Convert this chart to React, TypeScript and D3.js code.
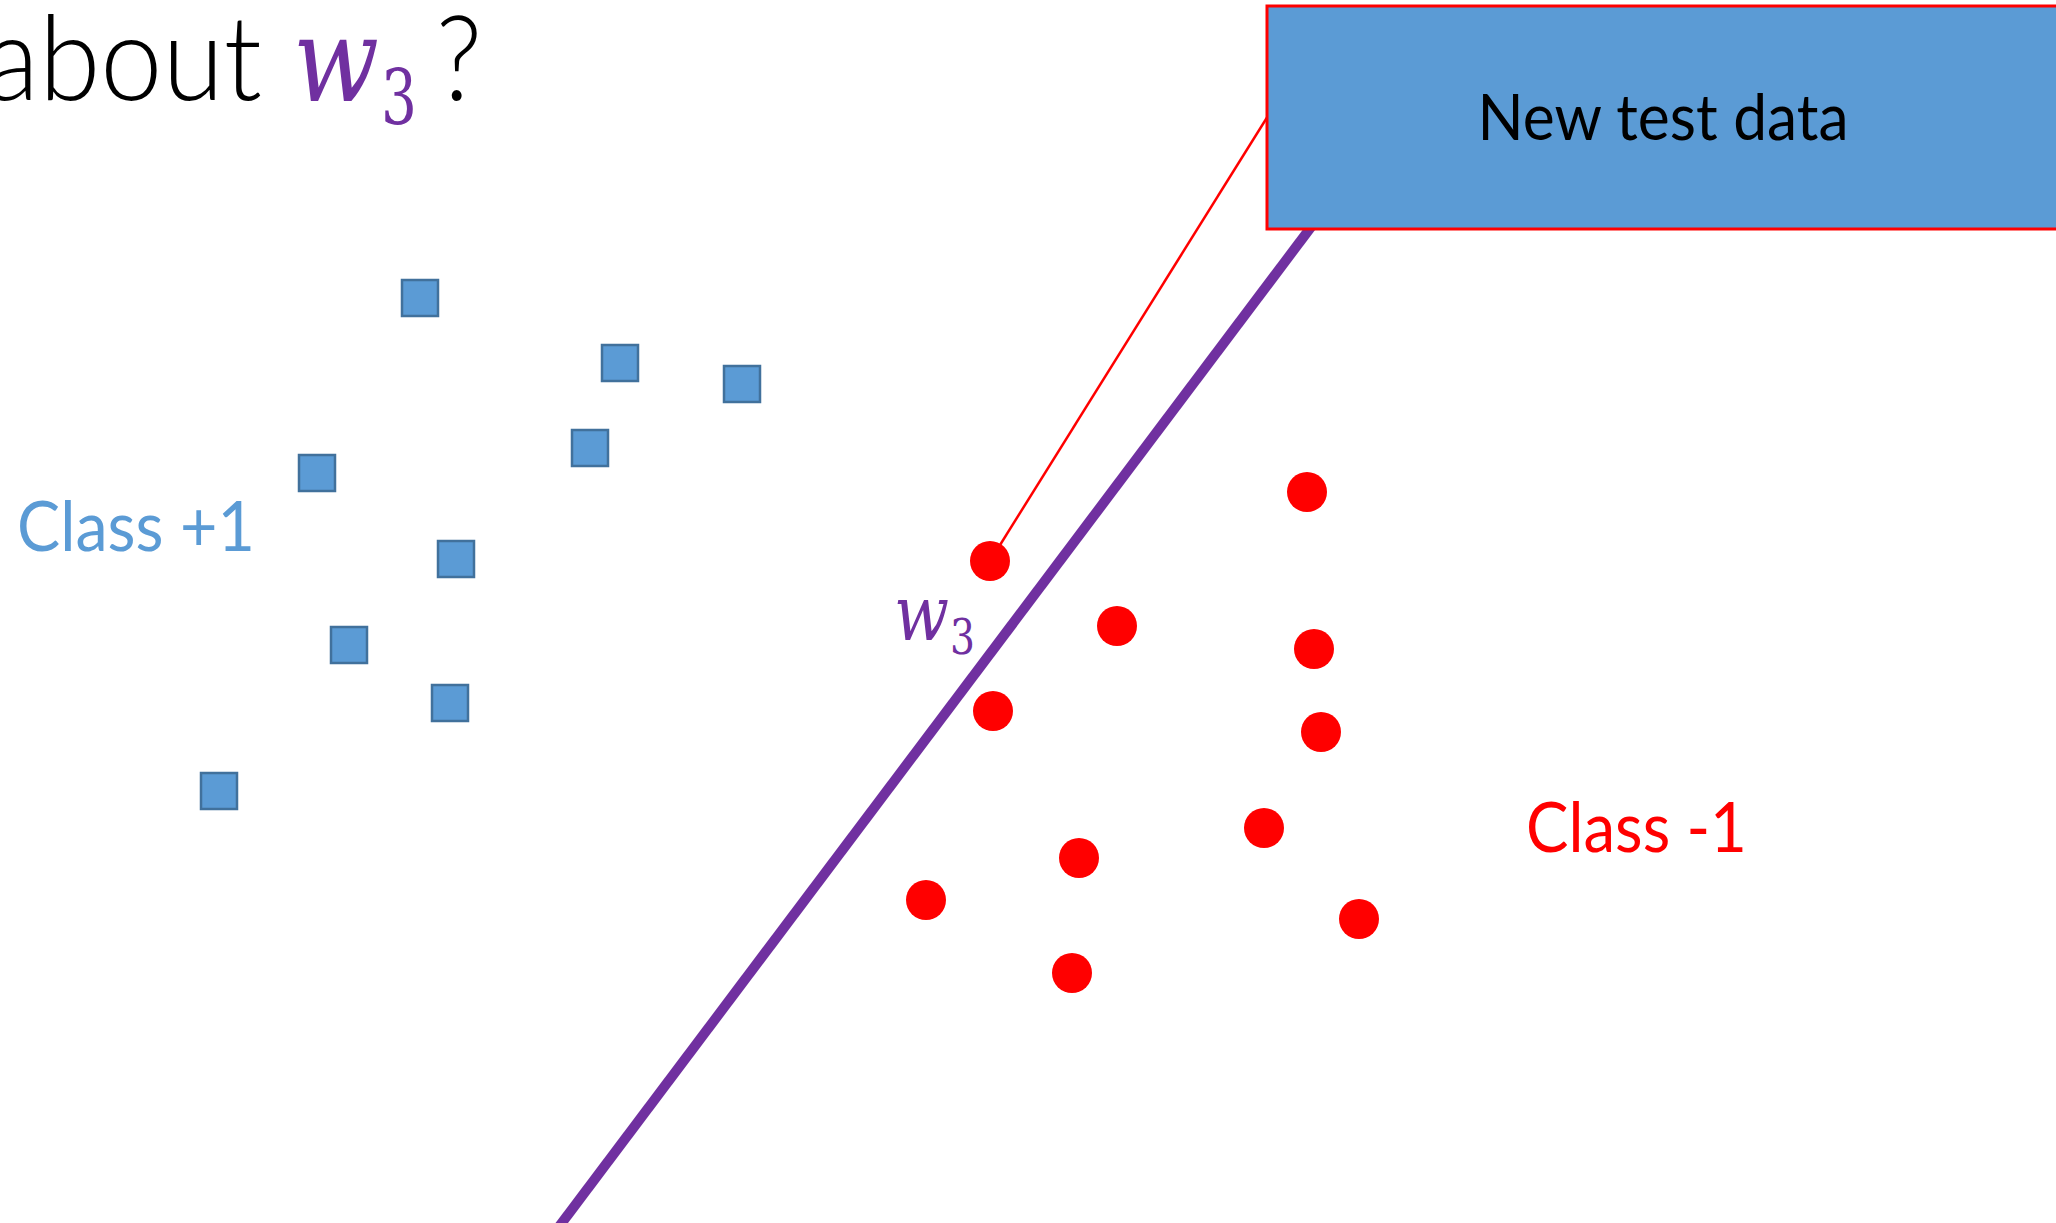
import React from "react";
import * as d3 from "d3";

// Feature space: x1 along the horizontal, x2 along the vertical.
const WIDTH = 2056;
const HEIGHT = 1223;

// Class +1 samples (x1, x2)
const positiveX1 = [4.2, 6.2, 7.42, 5.9, 3.17, 4.56, 3.49, 4.5, 2.19];
const positiveX2 = [9.25, 8.6, 8.39, 7.75, 7.5, 6.64, 5.78, 5.2, 4.32];

// Class -1 samples (x1, x2); the first one is the new test point
const negativeX1 = [9.9, 11.17, 9.93, 13.07, 13.14, 13.21, 12.64, 10.79, 9.26, 13.59, 10.72];
const negativeX2 = [6.62, 5.97, 5.12, 7.31, 5.74, 4.91, 3.95, 3.65, 3.23, 3.04, 2.5];

// Decision boundary w3, given by two points on it
const boundaryX1 = [5.55, 13.69];
const boundaryX2 = [-0.09, 10.73];

const TEST_INDEX = 0;

const labels = {
  titleWord: "about",
  weight: "w",
  weightIndex: "3",
  question: "?",
  positive: "Class +1",
  negative: "Class -1",
  callout: "New test data",
};

const BLUE = "#5b9bd5";
const BLUE_EDGE = "#41719c";
const RED = "#ff0000";
const PURPLE = "#7030a0";
const SANS = "Lato, 'Open Sans', 'Noto Sans', sans-serif";
const MATH = "'DejaVu Serif', 'Liberation Serif', serif";

export default function App() {
  const x = d3.scaleLinear().domain([0, 20.56]).range([0, WIDTH]);
  const y = d3.scaleLinear().domain([0, 12.23]).range([HEIGHT, 0]);

  const positives = positiveX1.map((v, i) => ({ x1: v, x2: positiveX2[i] }));
  const negatives = negativeX1.map((v, i) => ({ x1: v, x2: negativeX2[i] }));

  const line = d3
    .line<[number, number]>()
    .x((d) => x(d[0]))
    .y((d) => y(d[1]));
  const boundary: [number, number][] = boundaryX1.map((v, i) => [v, boundaryX2[i]]);

  const sq = 36;
  const box = { x: 1267, y: 6, w: 792, h: 223 };
  const test = negatives[TEST_INDEX];

  return (
    <svg
      width={WIDTH}
      height={HEIGHT}
      style={{ position: "absolute", left: 0, top: 0, display: "block", background: "#fff" }}
    >
      {/* title: "about w3 ?" */}
      <text y={100} fontSize={118} fill="#000">
        <tspan x={-15} fontFamily={SANS} fontWeight={300}
          textLength={277} lengthAdjust="spacingAndGlyphs">
          {labels.titleWord}
        </tspan>
        <tspan x={293} y={101} fontFamily={MATH} fontStyle="italic" fill={PURPLE}
          textLength={86} lengthAdjust="spacingAndGlyphs">
          {labels.weight}
        </tspan>
        <tspan x={381} y={124} fontFamily={MATH} fontSize={76} fill={PURPLE}
          textLength={36} lengthAdjust="spacingAndGlyphs">
          {labels.weightIndex}
        </tspan>
        <tspan x={436} y={100} fontFamily={SANS} fontWeight={300}
          textLength={46} lengthAdjust="spacingAndGlyphs">
          {labels.question}
        </tspan>
      </text>

      {/* callout link from the test point */}
      <line x1={x(test.x1)} y1={y(test.x2)} x2={box.x} y2={box.y + box.h / 2}
        stroke={RED} strokeWidth={2.5} />

      {/* boundary */}
      <path d={line(boundary) || ""} stroke={PURPLE} strokeWidth={10} fill="none" />

      {/* class +1 */}
      {positives.map((d, i) => (
        <rect key={"p" + i} x={x(d.x1) - sq / 2} y={y(d.x2) - sq / 2} width={sq} height={sq}
          fill={BLUE} stroke={BLUE_EDGE} strokeWidth={2.5} />
      ))}

      {/* class -1 */}
      {negatives.map((d, i) => (
        <circle key={"n" + i} cx={x(d.x1)} cy={y(d.x2)} r={20} fill={RED} />
      ))}

      {/* callout box */}
      <rect x={box.x} y={box.y} width={box.w} height={box.h} fill={BLUE} stroke={RED} strokeWidth={3} />
      <text x={1663} y={140} textAnchor="middle" fontFamily={SANS} fontSize={64} fill="#000"
        textLength={371} lengthAdjust="spacingAndGlyphs">
        {labels.callout}
      </text>

      {/* class labels */}
      <text x={17} y={551} fontFamily={SANS} fontSize={70} fill={BLUE}
        textLength={238} lengthAdjust="spacingAndGlyphs">
        {labels.positive}
      </text>
      <text x={1526} y={852} fontFamily={SANS} fontSize={70} fill={RED}
        textLength={221} lengthAdjust="spacingAndGlyphs">
        {labels.negative}
      </text>

      {/* boundary label */}
      <text y={640} fontFamily={MATH} fill={PURPLE}>
        <tspan x={894} fontStyle="italic" fontSize={76}
          textLength={55} lengthAdjust="spacingAndGlyphs">
          {labels.weight}
        </tspan>
        <tspan x={950} y={654} fontSize={48}
          textLength={25} lengthAdjust="spacingAndGlyphs">
          {labels.weightIndex}
        </tspan>
      </text>
    </svg>
  );
}
